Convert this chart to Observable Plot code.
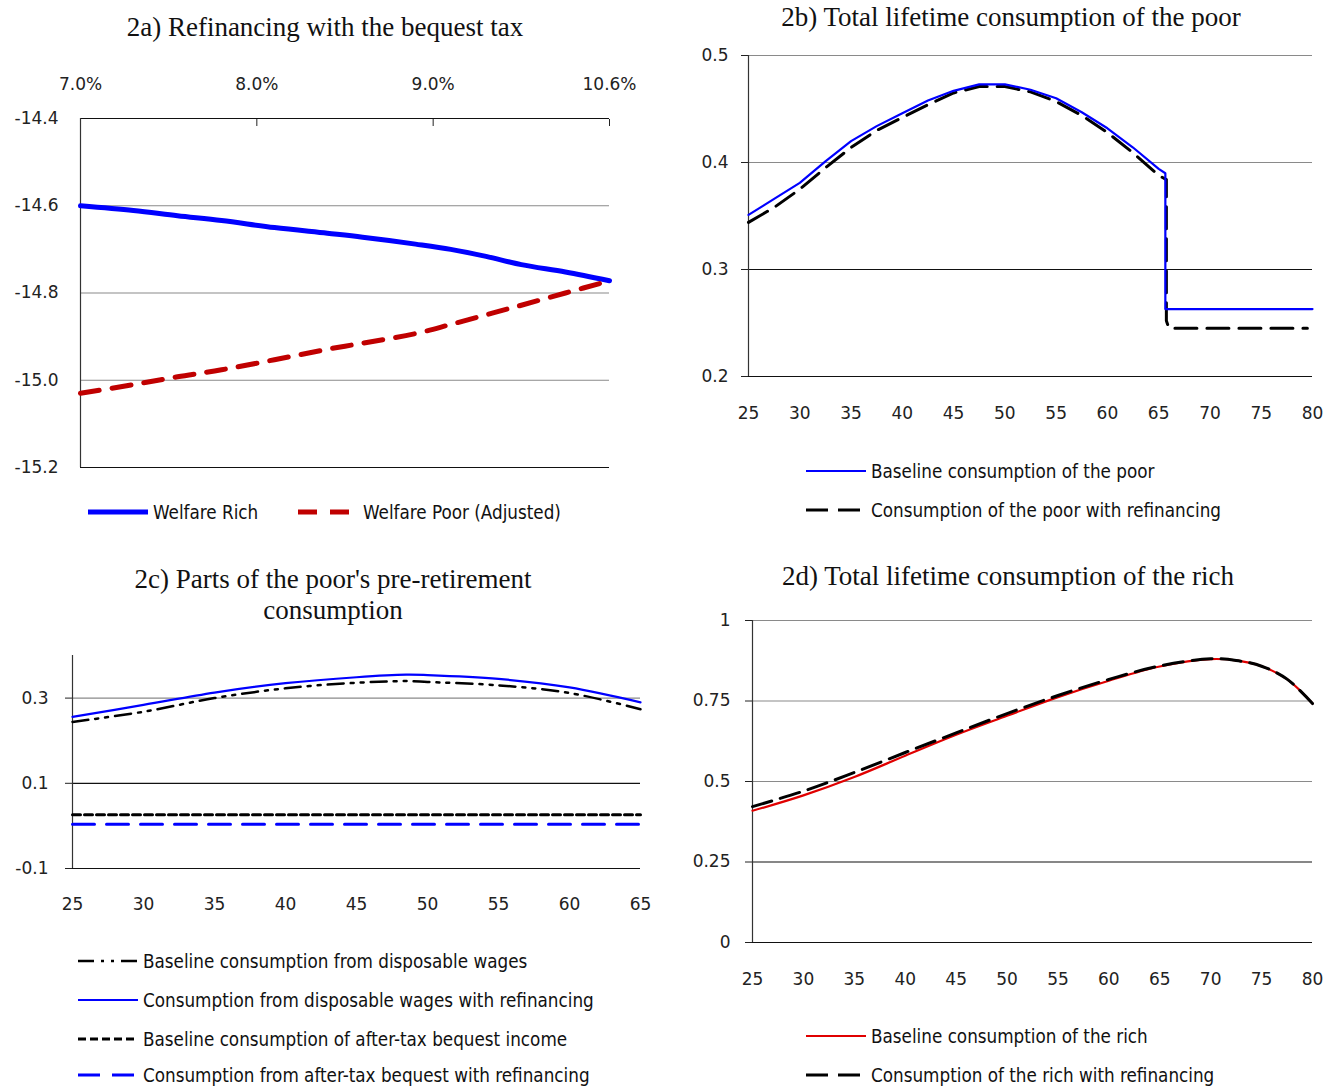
<!DOCTYPE html>
<html><head><meta charset="utf-8">
<script src="https://cdn.jsdelivr.net/npm/d3@7"></script>
<script src="https://cdn.jsdelivr.net/npm/@observablehq/plot@0.6"></script>
<style>
body{margin:0;background:#fff;}
#root{position:relative;width:1327px;height:1086px;overflow:hidden;background:#fff;}
.panel{position:absolute;}
.title{position:absolute;font-family:"Liberation Serif";font-size:27px;text-align:center;color:#111;line-height:31px;white-space:nowrap;}
.leg{position:absolute;font-family:"DejaVu Sans Condensed";font-size:18.7px;color:#111;display:flex;align-items:center;white-space:nowrap;height:22px;}
.leg svg{margin-right:5px;flex:none;}
</style></head>
<body><div id="root"></div>
<script>
// ---------- Data ----------
// 2a: welfare vs bequest tax rate (category positions 0..3 labelled below)
const taxTickLabels = ["7.0%", "8.0%", "9.0%", "10.6%"];
const taxPos = [0, 0.3, 0.55, 0.8, 1.1, 1.4, 1.6, 1.9, 2.1, 2.3, 2.5, 2.75, 3];
const welfareRich = [-14.600, -14.611, -14.623, -14.634, -14.650, -14.663, -14.672, -14.688, -14.700, -14.716, -14.735, -14.752, -14.772];
const welfarePoorAdj = [-15.030, -15.010, -14.992, -14.976, -14.953, -14.929, -14.915, -14.893, -14.872, -14.850, -14.828, -14.800, -14.772];

// 2b: total lifetime consumption of the poor
const agesPoorBase = [25, 27.5, 30, 32.5, 35, 37.5, 40, 42.5, 45, 47.5, 50, 52.5, 55, 57.5, 60, 62.5, 65, 65.65, 65.65, 70, 75, 80];
const poorBaseline = [0.351, 0.366, 0.381, 0.401, 0.420, 0.434, 0.446, 0.458, 0.467, 0.473, 0.473, 0.468, 0.460, 0.447, 0.432, 0.414, 0.394, 0.390, 0.263, 0.263, 0.263, 0.263];
const agesPoorRef = [25, 27.5, 30, 32.5, 35, 37.5, 40, 42.5, 45, 47.5, 50, 52.5, 55, 57.5, 60, 62.5, 65, 65.75, 65.75, 66, 79.5];
const poorRefinancing = [0.344, 0.358, 0.375, 0.395, 0.414, 0.430, 0.442, 0.454, 0.465, 0.471, 0.471, 0.466, 0.457, 0.444, 0.428, 0.409, 0.388, 0.384, 0.252, 0.245, 0.245];

// 2c: parts of the poor's pre-retirement consumption
const agesWork = [25, 30, 35, 40, 45, 48.5, 50, 55, 60, 65];
const wagesBaseline = [0.244, 0.268, 0.300, 0.323, 0.336, 0.340, 0.338, 0.330, 0.312, 0.274];
const wagesRefinancing = [0.256, 0.284, 0.313, 0.335, 0.349, 0.355, 0.354, 0.345, 0.325, 0.290];
const bequestAges = [25, 65];
const bequestBaseline = [0.026, 0.026];
const bequestRefinancing = [0.004, 0.004];

// 2d: total lifetime consumption of the rich
const agesRich = [25, 30, 35, 40, 45, 50, 55, 60, 65, 70, 72.5, 75, 77.5, 80];
const richBaseline = [0.409, 0.457, 0.514, 0.580, 0.645, 0.704, 0.762, 0.813, 0.857, 0.880, 0.876, 0.858, 0.818, 0.742];
const richRefinancing = [0.422, 0.470, 0.528, 0.590, 0.651, 0.711, 0.767, 0.817, 0.859, 0.881, 0.876, 0.858, 0.818, 0.742];

// tick values
const ticks2aY = [-15.2, -15.0, -14.8, -14.6, -14.4];
const ticks2bY = [0.2, 0.3, 0.4, 0.5];
const ticks2cY = [-0.1, 0.1, 0.3];
const ticks2dY = [0, 0.25, 0.5, 0.75, 1];
const ageTicksFull = [25, 30, 35, 40, 45, 50, 55, 60, 65, 70, 75, 80];
const ageTicksWork = [25, 30, 35, 40, 45, 50, 55, 60, 65];

// legend labels
const legend2a = ["Welfare Rich", "Welfare Poor (Adjusted)"];
const legend2b = ["Baseline consumption of the poor", "Consumption of the poor with refinancing"];
const legend2c = ["Baseline consumption from disposable wages", "Consumption from disposable wages with refinancing", "Baseline consumption of after-tax bequest income", "Consumption from after-tax bequest with refinancing"];
const legend2d = ["Baseline consumption of the rich", "Consumption of the rich with refinancing"];

// ---------- Helpers ----------
const zip = (xs, ys) => xs.map((x, i) => ({x, y: ys[i]}));
const root = document.getElementById("root");
const GRAY = "#8a8a8a", DARK = "#111";
const BLUE = "#0000ff";

function place(node, left, top) {
  const d = document.createElement("div");
  d.className = "panel";
  d.style.left = left + "px"; d.style.top = top + "px";
  d.appendChild(node);
  root.appendChild(d);
}
function title(text, cx, cy, w) {
  const d = document.createElement("div");
  d.className = "title";
  d.style.left = (cx - w / 2) + "px"; d.style.width = w + "px";
  d.style.top = (cy - 16) + "px";
  d.innerHTML = text;
  root.appendChild(d);
}
function legendItem(label, x, y, stroke, width, dash) {
  const d = document.createElement("div");
  d.className = "leg";
  d.style.left = x + "px"; d.style.top = (y - 11) + "px";
  const ns = "http://www.w3.org/2000/svg";
  const s = document.createElementNS(ns, "svg");
  s.setAttribute("width", 60); s.setAttribute("height", 20);
  const l = document.createElementNS(ns, "line");
  l.setAttribute("x1", 0); l.setAttribute("x2", 60);
  l.setAttribute("y1", 10); l.setAttribute("y2", 10);
  l.setAttribute("stroke", stroke); l.setAttribute("stroke-width", width);
  if (dash) l.setAttribute("stroke-dasharray", dash);
  s.appendChild(l);
  d.appendChild(s);
  const t = document.createElement("span");
  t.textContent = label;
  d.appendChild(t);
  root.appendChild(d);
}
const baseStyle = {fontFamily: "DejaVu Sans", fontSize: "17px", color: "#222", background: "transparent", overflow: "visible"};

// ---------- 2a ----------
const p2a = Plot.plot({
  width: 660, height: 440,
  marginLeft: 80, marginRight: 51, marginTop: 58, marginBottom: 33,
  style: baseStyle,
  x: {domain: [0, 3], axis: "top", ticks: [0, 1, 2, 3], tickFormat: i => taxTickLabels[i], tickSize: -7, tickPadding: 36, label: null},
  y: {domain: [-15.2, -14.4], ticks: ticks2aY, tickFormat: d => d.toFixed(1), tickSize: 0, tickPadding: 22, label: null},
  marks: [
    Plot.ruleY(ticks2aY.filter(v => v > -15.2 && v < -14.4), {stroke: GRAY, strokeWidth: 1.2}),
    Plot.ruleY([-15.2, -14.4], {stroke: DARK, strokeWidth: 1.2}),
    Plot.ruleX([0], {stroke: "#333", strokeWidth: 1.2}),
    Plot.line(zip(taxPos, welfareRich), {x: "x", y: "y", stroke: BLUE, strokeWidth: 5, curve: "catmull-rom"}),
    Plot.line(zip(taxPos, welfarePoorAdj), {x: "x", y: "y", stroke: "#c00000", strokeWidth: 5, strokeDasharray: "19,13", curve: "catmull-rom"})
  ]
});
place(p2a, 0, 60);
title("2a) Refinancing with the bequest tax", 325, 28, 600);
legendItem(legend2a[0], 88, 512, BLUE, 5, null);
legendItem(legend2a[1], 298, 512, "#c00000", 5, "19,13");

// ---------- 2b ----------
const p2b = Plot.plot({
  width: 667, height: 420,
  marginLeft: 88, marginRight: 15, marginTop: 25, marginBottom: 74,
  style: baseStyle,
  x: {domain: [25, 80], ticks: ageTicksFull, tickSize: 0, tickPadding: 30, label: null},
  y: {domain: [0.2, 0.5], ticks: ticks2bY, tickFormat: d => d.toFixed(1), tickSize: 7, tickPadding: 13, label: null},
  marks: [
    Plot.ruleY([0.4, 0.5], {stroke: GRAY, strokeWidth: 1.2}),
    Plot.ruleY([0.2, 0.3], {stroke: DARK, strokeWidth: 1.2}),
    Plot.ruleX([25], {stroke: "#333", strokeWidth: 1.2}),
    Plot.line(zip(agesPoorRef, poorRefinancing), {x: "x", y: "y", stroke: "#000", strokeWidth: 3, strokeDasharray: "22,10"}),
    Plot.line(zip(agesPoorBase, poorBaseline), {x: "x", y: "y", stroke: BLUE, strokeWidth: 2.2})
  ]
});
place(p2b, 660, 30);
title("2b) Total lifetime consumption of the poor", 1011, 18, 620);
legendItem(legend2b[0], 806, 471, BLUE, 2.2, null);
legendItem(legend2b[1], 806, 510, "#000", 3, "22,10");

// ---------- 2c ----------
const p2c = Plot.plot({
  width: 660, height: 300,
  marginLeft: 72, marginRight: 20, marginTop: 25, marginBottom: 62,
  style: baseStyle,
  x: {domain: [25, 65], ticks: ageTicksWork, tickSize: 0, tickPadding: 29, label: null},
  y: {domain: [-0.1, 0.4], ticks: ticks2cY, tickFormat: d => d.toFixed(1), tickSize: 7, tickPadding: 17, label: null},
  marks: [
    Plot.ruleY([0.3], {stroke: GRAY, strokeWidth: 1.2}),
    Plot.ruleY([0.1, -0.1], {stroke: DARK, strokeWidth: 1.2}),
    Plot.ruleX([25], {stroke: "#333", strokeWidth: 1.2}),
    Plot.line(zip(bequestAges, bequestBaseline), {x: "x", y: "y", stroke: "#000", strokeWidth: 3, strokeDasharray: "8,4"}),
    Plot.line(zip(bequestAges, bequestRefinancing), {x: "x", y: "y", stroke: BLUE, strokeWidth: 3, strokeDasharray: "22,12"}),
    Plot.line(zip(agesWork, wagesBaseline), {x: "x", y: "y", stroke: "#000", strokeWidth: 2.5, strokeDasharray: "16,7,3,7,3,7", curve: "catmull-rom"}),
    Plot.line(zip(agesWork, wagesRefinancing), {x: "x", y: "y", stroke: BLUE, strokeWidth: 2.2, curve: "catmull-rom"})
  ]
});
place(p2c, 0, 630);
title("2c) Parts of the poor's pre-retirement<br>consumption", 333, 580, 600);
legendItem(legend2c[0], 78, 961, "#000", 2.5, "16,7,3,7,3,7");
legendItem(legend2c[1], 78, 1000, BLUE, 2.2, null);
legendItem(legend2c[2], 78, 1039, "#000", 3, "8,4");
legendItem(legend2c[3], 78, 1075, BLUE, 3, "22,12");

// ---------- 2d ----------
const p2d = Plot.plot({
  width: 667, height: 400,
  marginLeft: 92, marginRight: 15, marginTop: 20, marginBottom: 58,
  style: baseStyle,
  x: {domain: [25, 80], ticks: ageTicksFull, tickSize: 0, tickPadding: 30, label: null},
  y: {domain: [0, 1], ticks: ticks2dY, tickFormat: d => String(d), tickSize: 7, tickPadding: 15, label: null},
  marks: [
    Plot.ruleY([0.5, 0.75, 1], {stroke: GRAY, strokeWidth: 1.2}),
    Plot.ruleY([0, 0.25], {stroke: DARK, strokeWidth: 1.2}),
    Plot.ruleX([25], {stroke: "#333", strokeWidth: 1.2}),
    Plot.line(zip(agesRich, richBaseline), {x: "x", y: "y", stroke: "#e00000", strokeWidth: 2.2, curve: "catmull-rom"}),
    Plot.line(zip(agesRich, richRefinancing), {x: "x", y: "y", stroke: "#000", strokeWidth: 3, strokeDasharray: "20,9", curve: "catmull-rom"})
  ]
});
place(p2d, 660, 600);
title("2d) Total lifetime consumption of the rich", 1008, 577, 620);
legendItem(legend2d[0], 806, 1036, "#e00000", 2.2, null);
legendItem(legend2d[1], 806, 1075, "#000", 3, "22,10");
</script>
</body></html>
